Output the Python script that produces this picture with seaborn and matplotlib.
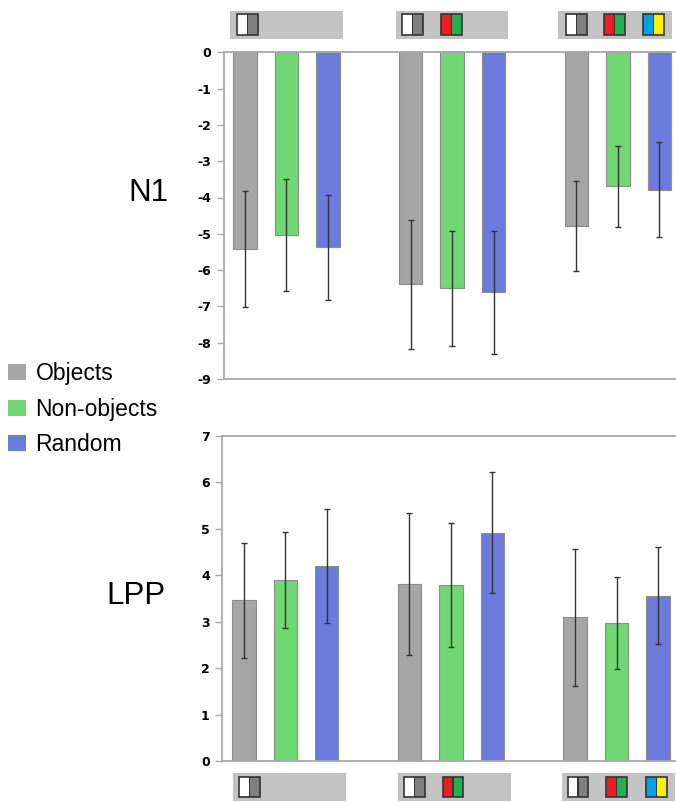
import matplotlib
matplotlib.use('Agg')
import matplotlib.pyplot as plt
import pandas as pd
import seaborn as sns
from matplotlib.patches import Patch, Rectangle

# conditions (colour pairs shown in the icon strips) and stimulus types
conditions = ['achromatic', 'two_colour', 'three_colour']
stim_types = ['Objects', 'Non-objects', 'Random']
stim_colors = ['#a6a6a6', '#70d873', '#6a7bdc']

# N1 amplitude (mean, error half-width) per condition
n1_objects = [-5.42, -6.39, -4.78]
n1_nonobjects = [-5.03, -6.50, -3.69]
n1_random = [-5.37, -6.61, -3.78]
n1_objects_err = [1.61, 1.78, 1.24]
n1_nonobjects_err = [1.54, 1.58, 1.11]
n1_random_err = [1.45, 1.69, 1.31]

# LPP amplitude
lpp_objects = [3.46, 3.81, 3.09]
lpp_nonobjects = [3.89, 3.79, 2.97]
lpp_random = [4.20, 4.91, 3.56]
lpp_objects_err = [1.24, 1.53, 1.48]
lpp_nonobjects_err = [1.03, 1.33, 0.98]
lpp_random_err = [1.22, 1.30, 1.05]

n1_ticks = list(range(0, -10, -1))
lpp_ticks = list(range(0, 8))

# icon colour pairs per condition
icon_pairs = [('#ffffff', '#808080'), ('#ed1c24', '#22b14c'), ('#00a2e8', '#fff200')]

W, H = 676, 802
SPINE = '#a8a8a8'


def make_frame(means, errs):
    rows = []
    for stim, m, e in zip(stim_types, means, errs):
        for cond, v, err in zip(conditions, m, e):
            rows.append({'stimulus': stim, 'condition': cond, 'value': v, 'err': err})
    return pd.DataFrame(rows)


def draw_panel(ax, data, ticks, ylim, xlim):
    sns.barplot(data=data, x='condition', y='value', hue='stimulus',
                order=conditions, hue_order=stim_types, palette=stim_colors,
                errorbar=None, width=0.751, gap=0.434, legend=False,
                edgecolor='#8c8c8c', linewidth=0.8, saturation=1, ax=ax)
    # patches are drawn hue level by hue level, same order as data rows
    for bar, (_, row) in zip(ax.patches, data.iterrows()):
        cx = bar.get_x() + bar.get_width() / 2
        ax.errorbar(cx, row['value'], yerr=row['err'], fmt='none',
                    ecolor='#333333', elinewidth=1.0, capsize=2.2,
                    capthick=1.0, zorder=5)
    ax.set_ylim(*ylim)
    ax.set_xlim(*xlim)
    ax.set_yticks(ticks)
    ax.set_yticklabels([str(t) for t in ticks], fontweight='bold',
                       fontsize=9, family='DejaVu Sans')
    ax.set_xticks([])
    ax.set_xlabel('')
    ax.set_ylabel('')
    for side in ['left', 'top', 'bottom']:
        ax.spines[side].set_visible(True)
        ax.spines[side].set_color(SPINE)
        ax.spines[side].set_linewidth(1.3)
    ax.spines['right'].set_visible(False)
    ax.tick_params(axis='y', which='both', left=True, length=5, width=1,
                   color=SPINE, pad=4, labelcolor='black')


def px_rect(fig, x0, y0, x1, y1, **kw):
    fig.patches.append(Rectangle((x0 / W, 1 - y1 / H), (x1 - x0) / W,
                                 (y1 - y0) / H, transform=fig.transFigure,
                                 figure=fig, **kw))


def draw_icon(fig, x0, y0, size, pair):
    half = size / 2
    px_rect(fig, x0, y0, x0 + half, y0 + size, facecolor=pair[0],
            edgecolor='none', zorder=3)
    px_rect(fig, x0 + half, y0, x0 + size, y0 + size, facecolor=pair[1],
            edgecolor='none', zorder=3)
    px_rect(fig, x0 + half - 0.6, y0, x0 + half + 0.6, y0 + size,
            facecolor='#333333', edgecolor='none', zorder=4)
    px_rect(fig, x0, y0, x0 + size, y0 + size, facecolor='none',
            edgecolor='#333333', linewidth=1.2, zorder=4)


def draw_strip(fig, boxes, icons, y0, y1, iy0, size):
    for bx0, bx1 in boxes:
        px_rect(fig, bx0, y0, bx1, y1, facecolor='#c3c3c3',
                edgecolor='none', zorder=2)
    for group in icons:
        for j, ix in enumerate(group):
            draw_icon(fig, ix, iy0, size, icon_pairs[j])


sns.set_style('white')
plt.rcParams['font.family'] = ['Liberation Sans', 'DejaVu Sans']
plt.rcParams['text.color'] = 'black'

fig = plt.figure(figsize=(W / 100, H / 100), dpi=100)
ax_n1 = fig.add_axes([224 / W, 1 - 379 / H, 1 - 224 / W, (379 - 52.3) / H])
ax_lpp = fig.add_axes([222.3 / W, 1 - 761 / H, 1 - 222.3 / W, (761 - 435.7) / H])

n1_df = make_frame([n1_objects, n1_nonobjects, n1_random],
                   [n1_objects_err, n1_nonobjects_err, n1_random_err])
lpp_df = make_frame([lpp_objects, lpp_nonobjects, lpp_random],
                    [lpp_objects_err, lpp_nonobjects_err, lpp_random_err])

draw_panel(ax_n1, n1_df, n1_ticks, (-9, 0), (-0.377, 2.35))
draw_panel(ax_lpp, lpp_df, lpp_ticks, (0, 7), (-0.38, 2.359))

fig.text(148 / W, 1 - 193 / H, 'N1', fontsize=22.5, ha='center', va='center',
         color='black')
fig.text(136 / W, 1 - 596 / H, 'LPP', fontsize=22.5, ha='center', va='center',
         color='black')

# top and bottom icon strips
draw_strip(fig, [(230, 343), (395.7, 508), (558, 671.7)],
           [[236.7], [402, 440.7], [565.7, 604, 643.3]], 11, 39, 14, 21)
draw_strip(fig, [(232.7, 345.7), (398, 510.7), (561.7, 675)],
           [[239], [404, 442.7], [567.7, 606, 646]], 772.7, 800.7, 776.7, 20.5)

handles = [Patch(facecolor=c, edgecolor='none', label=s)
           for c, s in zip(stim_colors, stim_types)]
fig.legend(handles=handles, loc='upper left', bbox_to_anchor=(8 / W, 1 - 362 / H),
           frameon=False, fontsize=16.5, handlelength=0.8, handleheight=0.7,
           handletextpad=0.4, labelspacing=0.55, borderpad=0, borderaxespad=0,
           labelcolor='black')

fig.savefig('out.png', dpi=100)
